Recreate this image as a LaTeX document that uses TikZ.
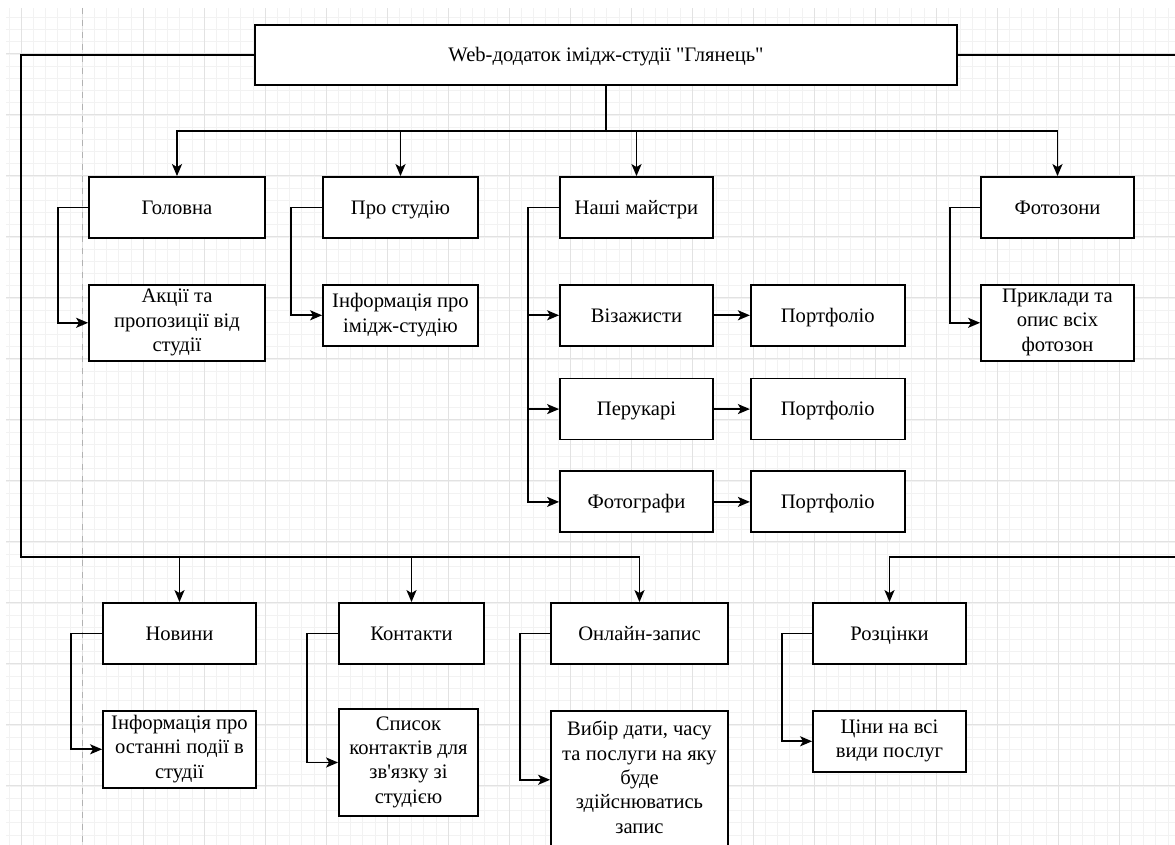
\documentclass[tikz,border=0pt]{standalone}
\usepackage{fontspec}
\setmainfont{Liberation Serif}
\usetikzlibrary{arrows.meta, positioning}
\definecolor{cGrid}{RGB}{226,226,226}
\definecolor{cGridMin}{RGB}{242,242,242}

\begin{document}
\begin{tikzpicture}[x=0.5pt, y=-0.5pt,
          b/.style={draw, line width=0.9pt, fill=white, inner sep=1pt, align=center,
                    minimum height=30.5pt, font=\rmfamily\fontsize{10.3pt}{12.2pt}\selectfont,
                    execute at begin node=\rule{0pt}{9.4pt},
                    execute at end node=\rule[-2.6pt]{0pt}{2.6pt}},
          l/.style={line width=0.9pt},
          >={Stealth[length=6pt, width=5pt, inset=1.5pt]}]
        \useasboundingbox (0,0) rectangle (1175,845);
        \fill[white] (0,0) rectangle (1175,845);
        \begin{scope}[shift={(21,54)}]
          \draw[cGridMin, line width=0.3pt, xstep=6.1pt, ystep=6.1pt] (-15,791) grid (1154,-46);
          \draw[cGrid, line width=0.5pt, xstep=30.5pt, ystep=30.5pt] (-15,791) grid (1154,-46);
        \end{scope}
        \draw[gray!60, dashed, line width=0.5pt] (82,8) -- (82,845);

        \node[b, minimum width=351pt, minimum height=30pt] (top) at (606,55) {Web-додаток імідж-студії \textquotedbl Глянець\textquotedbl};

        \node[b, minimum width=88pt] (gol) at (177,207.5) {Головна};
        \node[b, minimum width=77.5pt] (pro) at (400.5,207.5) {Про студію};
        \node[b, minimum width=76.5pt] (mast) at (636.5,207.5) {Наші майстри};
        \node[b, minimum width=76.5pt] (foto) at (1057.5,207.5) {Фотозони};

        \node[b, minimum width=88pt, minimum height=38pt, below=22.5pt of gol] (akc) {Акції та\\пропозиції від\\студії};
        \node[b, minimum width=77.5pt, below=22.5pt of pro] (info) {Інформація про\\імідж-студію};
        \node[b, minimum width=76.5pt, below=22.5pt of mast] (viz) {Візажисти};
        \node[b, minimum width=76.5pt, below=15.5pt of viz] (per) {Перукарі};
        \node[b, minimum width=76.5pt, below=15pt of per] (fgr) {Фотографи};
        \node[b, minimum width=77pt, right=18pt of viz] (port1) {Портфоліо};
        \node[b, minimum width=77pt, right=18pt of per] (port2) {Портфоліо};
        \node[b, minimum width=77pt, right=18pt of fgr] (port3) {Портфоліо};
        \node[b, minimum width=76.5pt, minimum height=38pt, below=22.5pt of foto] (pryk) {Приклади та\\опис всіх\\фотозон};

        \node[b, minimum width=76.5pt] (nov) at (179.5,633.5) {Новини};
        \node[b, minimum width=72.5pt] (kont) at (411.5,633.5) {Контакти};
        \node[b, minimum width=88.5pt] (onl) at (639.5,633.5) {Онлайн-запис};
        \node[b, minimum width=76.5pt] (roz) at (889.5,633.5) {Розцінки};

        \node[b, minimum width=76.5pt, minimum height=38.5pt, below=22.5pt of nov] (podii) {Інформація про\\останні події в\\студії};
        \node[b, minimum width=69.5pt, minimum height=53.5pt] (spys) at (408.5,762.5) {Список\\контактів для\\зв\textquotesingle язку зі\\студією};
        \node[b, minimum width=88.5pt, minimum height=69pt, below=22.5pt of onl] (vyb) {Вибір дати, часу\\та послуги на яку\\буде\\здійснюватись\\запис};
        \node[b, minimum width=76.5pt, below=22.5pt of roz] (cin) {Ціни на всі\\види послуг};

        \coordinate (tb) at (606,131);
        \coordinate (lb) at (21,557);
        \coordinate (rb) at (1190,557);
        \draw[l] (top) -- (tb);
        \draw[l,->] (tb) -| (gol); \draw[l,->] (tb) -| (pro);
        \draw[l,->] (tb) -| (mast); \draw[l,->] (tb) -| (foto);

        \draw[l,->] (gol.west) -- ++(-30,0) |- (akc.west);
        \draw[l,->] (pro.west) -- ++(-31,0) |- (info.west);
        \draw[l,->] (mast.west) -- ++(-31,0) coordinate (mv) |- (viz.west);
        \draw[l,->] (mv) |- (per.west); \draw[l,->] (mv) |- (fgr.west);
        \draw[l,->] (viz) -- (port1); \draw[l,->] (per) -- (port2);
        \draw[l,->] (fgr) -- (port3);
        \draw[l,->] (foto.west) -- ++(-30,0) |- (pryk.west);

        \draw[l,->] (top.west) -| (lb) -| (onl);
        \draw[l,->] (lb) -| (nov); \draw[l,->] (lb) -| (kont);
        \draw[l,->] (top.east) -| (rb) -| (roz);

        \draw[l,->] (nov.west) -- ++(-31,0) |- (podii.west);
        \draw[l,->] (kont.west) -- ++(-31,0) |- (spys.west);
        \draw[l,->] (onl.west) -- ++(-30,0) |- (vyb.west);
        \draw[l,->] (roz.west) -- ++(-30,0) |- (cin.west);
      \end{tikzpicture}
\end{document}
